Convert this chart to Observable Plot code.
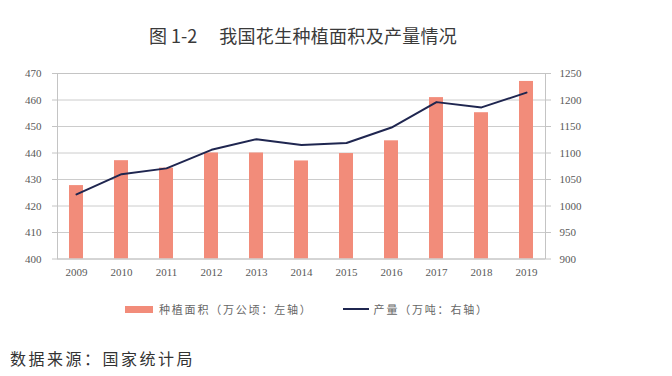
<!DOCTYPE html>
<html><head><meta charset="utf-8">
<script src="https://cdn.jsdelivr.net/npm/d3@7"></script>
<script src="https://cdn.jsdelivr.net/npm/@observablehq/plot@0.6"></script>
<style>
body{margin:0;background:#fff;}
#wrap{position:relative;width:672px;height:376px;overflow:hidden;font-family:"Noto Sans CJK SC","Noto Sans",sans-serif;background:#fff;}
#title{position:absolute;left:149px;top:23px;font-size:18px;color:#3a3a3a;white-space:pre;line-height:24px;}
#title .t2{margin-left:22px;letter-spacing:0.3px;}
#chart{position:absolute;left:0;top:55px;}
#legend{position:absolute;left:125px;top:301px;font-size:11px;letter-spacing:1.8px;color:#666;display:flex;align-items:center;white-space:pre;line-height:16px;}
.sw{display:inline-block;}
#source{position:absolute;left:10px;top:347px;font-size:16px;letter-spacing:2.5px;color:#333;line-height:22px;}
</style></head><body><div id="wrap">
<div id="title"><span>图 1-2</span><span class="t2">我国花生种植面积及产量情况</span></div>
<div id="chart"></div>
<div id="legend"><span class="sw" style="width:28px;height:7px;background:#F28C7A;margin-right:6px"></span><span>种植面积（万公顷：左轴）</span><span class="sw" style="width:26px;height:2px;background:#1F2650;margin-left:30px;margin-right:5px"></span><span>产量（万吨：右轴）</span></div>
<div id="source">数据来源：国家统计局</div>
</div>
<script>
const years = ["2009","2010","2011","2012","2013","2014","2015","2016","2017","2018","2019"];
const area = [427.7, 437.1, 434.3, 440.0, 440.0, 437.0, 439.8, 444.6, 460.9, 455.2, 467.0];
const output = [1022, 1060, 1071, 1106, 1126, 1115, 1119, 1148, 1196, 1186, 1214];
const leftTicks = [400, 410, 420, 430, 440, 450, 460, 470];
const rightTicks = [900, 950, 1000, 1050, 1100, 1150, 1200, 1250];

const toLeft = v => 400 + (v - 900) * 70 / 350;
const data = years.map((y, i) => ({year: y, area: area[i], out: output[i], outL: toLeft(output[i])}));

const chart = Plot.plot({
  width: 672, height: 230,
  marginTop: 18, marginBottom: 26.5, marginLeft: 57, marginRight: 127,
  style: {fontFamily: "'Liberation Serif', serif", fontSize: "11px", color: "#595959", background: "transparent"},
  x: {type: "band", domain: years, paddingInner: 0.69, paddingOuter: 0.23},
  y: {domain: [400, 470]},
  marks: [
    Plot.gridY(leftTicks, {stroke: "#cccccc", strokeOpacity: 1}),
    Plot.barY(data, {x: "year", y1: 400, y2: "area", fill: "#F28C7A"}),
    Plot.line(data, {x: "year", y: "outL", stroke: "#1F2650", strokeWidth: 2}),
    Plot.frame({stroke: "#c4c4c4"}),
    Plot.axisY(leftTicks, {anchor: "left", tickSize: 5, tickPadding: 11, stroke: "#c4c4c4", label: null}),
    Plot.axisY(leftTicks, {anchor: "right", tickSize: 5, tickPadding: 9, stroke: "#c4c4c4", label: null,
      tickFormat: v => String(rightTicks[leftTicks.indexOf(v)])}),
    Plot.axisX({tickSize: 0, tickPadding: 9, label: null})
  ]
});
document.getElementById("chart").appendChild(chart);
</script>
</body></html>
